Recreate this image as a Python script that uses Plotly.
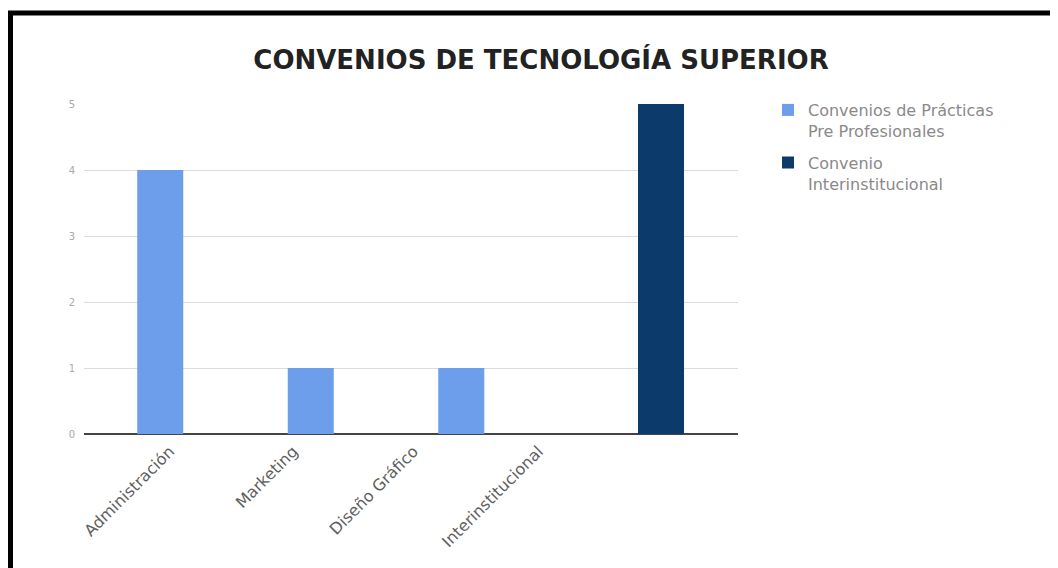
import plotly.graph_objects as go

categories = ["Administración", "Marketing", "Diseño Gráfico", "Interinstitucional"]
practicas = [4, 1, 1, None]
interinstitucional = [None, None, None, 5]
series_names = ["Convenios de Prácticas<br>Pre Profesionales", "Convenio<br>Interinstitucional"]
y_ticks = [0, 1, 2, 3, 4, 5]
label_positions = [-0.10, 0.72, 1.52, 2.35]

# page has an 8px body margin, so the figure is drawn 8px lower / righter
OFF = 8
W, H = 1058 - OFF, 568 - OFF
L, R, T = 84 - OFF, 320, 104 - OFF
B = H - (434 - OFF)
PW, PH = W - L - R, H - T - B

def px_x(p):
    return (p - OFF - L) / PW

def px_y(p):
    return (H - B - (p - OFF)) / PH

fig = go.Figure()
fig.add_trace(go.Bar(x=categories, y=practicas, name=series_names[0], legendgroup="g1",
                     marker=dict(color="#6d9eeb", line=dict(width=0))))
fig.add_trace(go.Bar(x=categories, y=interinstitucional, name=series_names[1], legendgroup="g2",
                     marker=dict(color="#0b3a6b", line=dict(width=0))))

x_range = [-0.67, 3.675]

fig.update_layout(
    width=W, height=H,
    margin=dict(l=L, r=R, t=T, b=B, pad=0),
    paper_bgcolor="white", plot_bgcolor="white",
    barmode="group", bargap=0.346, bargroupgap=0.065,
    title=dict(text="<b>CONVENIOS DE TECNOLOGÍA SUPERIOR</b>",
               font=dict(family="DejaVu Sans", size=26, color="#222222"),
               x=(541 - OFF) / W, xanchor="center", xref="container",
               y=1 - (60 - OFF) / H, yanchor="middle", yref="container"),
    font=dict(family="DejaVu Sans", color="#757575"),
    xaxis=dict(type="category", range=x_range, showticklabels=False,
               showgrid=False, zeroline=False, showline=False, ticks=""),
    xaxis2=dict(type="linear", overlaying="x", anchor="y", side="bottom",
                range=x_range, tickmode="array", tickvals=label_positions,
                ticktext=categories, tickangle=-45, ticklabelstandoff=4,
                tickfont=dict(family="DejaVu Sans", size=16, color="#5f5f5f"),
                showgrid=False, zeroline=False, showline=False, ticks=""),
    yaxis=dict(range=[0, 5], tickvals=y_ticks, showgrid=True,
               gridcolor="#dcdcdc", gridwidth=1,
               zeroline=True, zerolinecolor="#444444", zerolinewidth=2,
               showline=False, ticks="", ticklabelstandoff=8,
               tickfont=dict(family="DejaVu Sans", size=10, color="#aaaaaa")),
    legend=dict(x=px_x(768), y=px_y(93), xanchor="left", yanchor="top",
                font=dict(family="DejaVu Sans", size=16, color="#8a8a8a"),
                traceorder="grouped", tracegroupgap=8, itemwidth=30, valign="top"),
    showlegend=True,
)

# invisible helper so the label axis is drawn
fig.add_trace(go.Scatter(x=[label_positions[0]], y=[0], xaxis="x2", yaxis="y",
                         mode="markers", marker=dict(opacity=0), showlegend=False,
                         hoverinfo="skip"))

# frame lines (top and left) seen in the reference
fig.add_shape(type="line", xref="paper", yref="paper",
              x0=px_x(8), x1=px_x(1075), y0=px_y(13), y1=px_y(13),
              line=dict(color="black", width=5), layer="above")
fig.add_shape(type="line", xref="paper", yref="paper",
              x0=px_x(10.5), x1=px_x(10.5), y0=px_y(11), y1=px_y(590),
              line=dict(color="black", width=5), layer="above")

fig.write_html("out.html")
